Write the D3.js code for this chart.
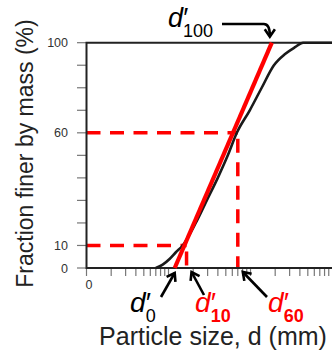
<!DOCTYPE html>
<html>
<head>
<meta charset="utf-8">
<script src="https://cdn.jsdelivr.net/npm/d3@7"></script>
<style>
  body { margin: 0; background: #fff; }
  svg { display: block; font-family: "Liberation Sans", Arial, sans-serif; }
</style>
</head>
<body>
<div id="chart"></div>
<script>
// grading curve (black): particle size (log) vs % finer
const curveSize = [7.0, 8.5, 10.3, 12.3, 14.9, 21.5, 29.3, 39.9, 52.9, 68.1, 98, 137, 193, 264, 349, 437, 1000];
const curveFiner = [0, 1.5, 4, 7, 10, 20, 30, 40, 50, 60, 70, 80, 90, 95, 98, 100, 100];

// straight fitted line (red)
const lineSize = [11.9, 182];
const lineFiner = [0, 100];

// characteristic sizes
const d10 = 16.6;
const d60 = 70;

const yTicks = [0, 10, 20, 30, 40, 50, 60, 70, 80, 90, 100];
const yTickLabels = [0, 10, 60, 100];
const xTickLabels = ["0"];

function init() {
    const width = 332;
    const height = 351;

    const svg = d3.select("#chart")
                  .append("svg")
                  .attr("width", width)
                  .attr("height", height);

    const x = d3.scaleLog().domain([1, 1000]).range([86.5, 332.5]);
    const y = d3.scaleLinear().domain([0, 100]).range([268, 42.7]);

    const red = "#ff0000";

    // ticks on y
    svg.selectAll(".ytick")
       .data(yTicks)
       .enter()
       .append("line")
       .attr("x1", x(1) - 9.5).attr("x2", x(1))
       .attr("y1", d => y(d)).attr("y2", d => y(d))
       .style("stroke", "#777")
       .style("stroke-width", 1.2);

    svg.selectAll(".ylab")
       .data(yTickLabels)
       .enter()
       .append("text")
       .attr("x", 68)
       .attr("y", d => y(d) + 4.5)
       .attr("text-anchor", "end")
       .style("font-size", "12.5px")
       .style("fill", "#333")
       .text(d => d);

    // log ticks on x
    const xTicks = x.ticks().filter(d => d < 1000);
    svg.selectAll(".xtick")
       .data(xTicks)
       .enter()
       .append("line")
       .attr("x1", d => x(d)).attr("x2", d => x(d))
       .attr("y1", y(0)).attr("y2", y(0) + 8)
       .style("stroke", "#777")
       .style("stroke-width", 1.2);

    svg.append("text")
       .attr("x", x(1) + 2.5)
       .attr("y", 289)
       .attr("text-anchor", "middle")
       .style("font-size", "12.5px")
       .style("fill", "#333")
       .text(xTickLabels[0]);

    // dashed guides
    const dash = "14,9.5";
    function guide(x1, y1, x2, y2, offset) {
        svg.append("line")
           .attr("x1", x1).attr("y1", y1).attr("x2", x2).attr("y2", y2)
           .style("stroke", red)
           .style("stroke-width", 3.5)
           .style("stroke-dasharray", dash)
           .style("stroke-dashoffset", offset || 0);
    }
    guide(x(1), y(60), x(d60), y(60));
    guide(x(d60), y(60), x(d60), y(0), 17.5);
    guide(x(1), y(10), x(d10), y(10));
    guide(x(d10), y(10), x(d10), y(0), 17.5);

    // frame
    svg.append("path")
       .attr("d", `M${x(1)},${y(0)}H${width}M${x(1)},${y(0) + 1}V${y(100)}H${width}`)
       .style("fill", "none")
       .style("stroke", "#222")
       .style("stroke-width", 2);

    // black grading curve
    const curvePts = curveSize.map((s, i) => [s, curveFiner[i]]);
    const lineGen = d3.line()
                      .x(d => x(d[0]))
                      .y(d => y(d[1]))
                      .curve(d3.curveMonotoneX);
    svg.append("path")
       .attr("d", lineGen(curvePts))
       .style("fill", "none")
       .style("stroke", "#1a1a1a")
       .style("stroke-width", 2.6);

    // red straight line
    const redPts = lineSize.map((s, i) => [s, lineFiner[i]]);
    svg.append("path")
       .attr("d", d3.line().x(d => x(d[0])).y(d => y(d[1]))(redPts))
       .style("fill", "none")
       .style("stroke", red)
       .style("stroke-width", 4.2);

    // arrows
    function arrow(pathD, tip, angle) {
        svg.append("path")
           .attr("d", pathD)
           .style("fill", "none")
           .style("stroke", "#000")
           .style("stroke-width", 2.6);
        const a = angle * Math.PI / 180, L = 9, spread = 0.6;
        const p1 = [tip[0] - L * Math.cos(a - spread), tip[1] - L * Math.sin(a - spread)];
        const p2 = [tip[0] - L * Math.cos(a + spread), tip[1] - L * Math.sin(a + spread)];
        svg.append("path")
           .attr("d", `M${p1}L${tip}L${p2}`)
           .style("fill", "none")
           .style("stroke", "#000")
           .style("stroke-width", 2.6)
           .style("stroke-linejoin", "miter");
    }

    const x0 = x(lineSize[0]), x100 = x(lineSize[1]);
    // d'100 arrow
    arrow(`M222,24H${x100 - 8}Q${x100 - 2},24 ${x100 - 2},${y(100) - 7}`,
          [x100 - 2, y(100) - 6], 90);
    // d'0 arrow
    arrow(`M161,297L${x0},${y(0) + 5}`, [x0, y(0) + 5], Math.atan2(-(297 - y(0) - 5), x0 - 161) * 180 / Math.PI);
    // d'10 arrow
    const t10 = [x(d10) + 5, y(0) + 4];
    arrow(`M204,295L${t10}`, t10, Math.atan2(t10[1] - 295, t10[0] - 204) * 180 / Math.PI);
    // d'60 arrow
    const t60 = [x(d60) + 5, y(0) + 4];
    arrow(`M267,297L${t60}`, t60, Math.atan2(t60[1] - 297, t60[0] - 267) * 180 / Math.PI);

    // d' labels
    function dLabel(px, py, sub, color, bold, dSize) {
        const t = svg.append("text")
                     .attr("x", px).attr("y", py)
                     .style("fill", color)
                     .style("font-size", dSize + "px");
        t.append("tspan").style("font-style", "italic").text("d");
        t.append("tspan").style("font-style", "italic").attr("dx", -1).text("\u2032");
        t.append("tspan")
         .attr("dx", -4).attr("dy", 10)
         .style("font-size", "18px")
         .style("font-weight", bold ? "bold" : "normal")
         .text(sub);
    }
    dLabel(168, 27, "100", "#000", false, 27);
    dLabel(130, 312, "0", "#000", false, 28);
    dLabel(195, 312, "10", red, true, 28);
    dLabel(268, 312, "60", red, true, 28);

    // axis titles
    svg.append("text")
       .attr("transform", "translate(33,153.5) rotate(-90)")
       .attr("text-anchor", "middle")
       .style("font-size", "23px")
       .style("fill", "#222")
       .text("Fraction finer by mass (%)");

    svg.append("text")
       .attr("x", 213)
       .attr("y", 345)
       .attr("text-anchor", "middle")
       .style("font-size", "25px")
       .style("fill", "#222")
       .text("Particle size, d (mm)");
}

window.onload = init;
</script>
</body>
</html>
